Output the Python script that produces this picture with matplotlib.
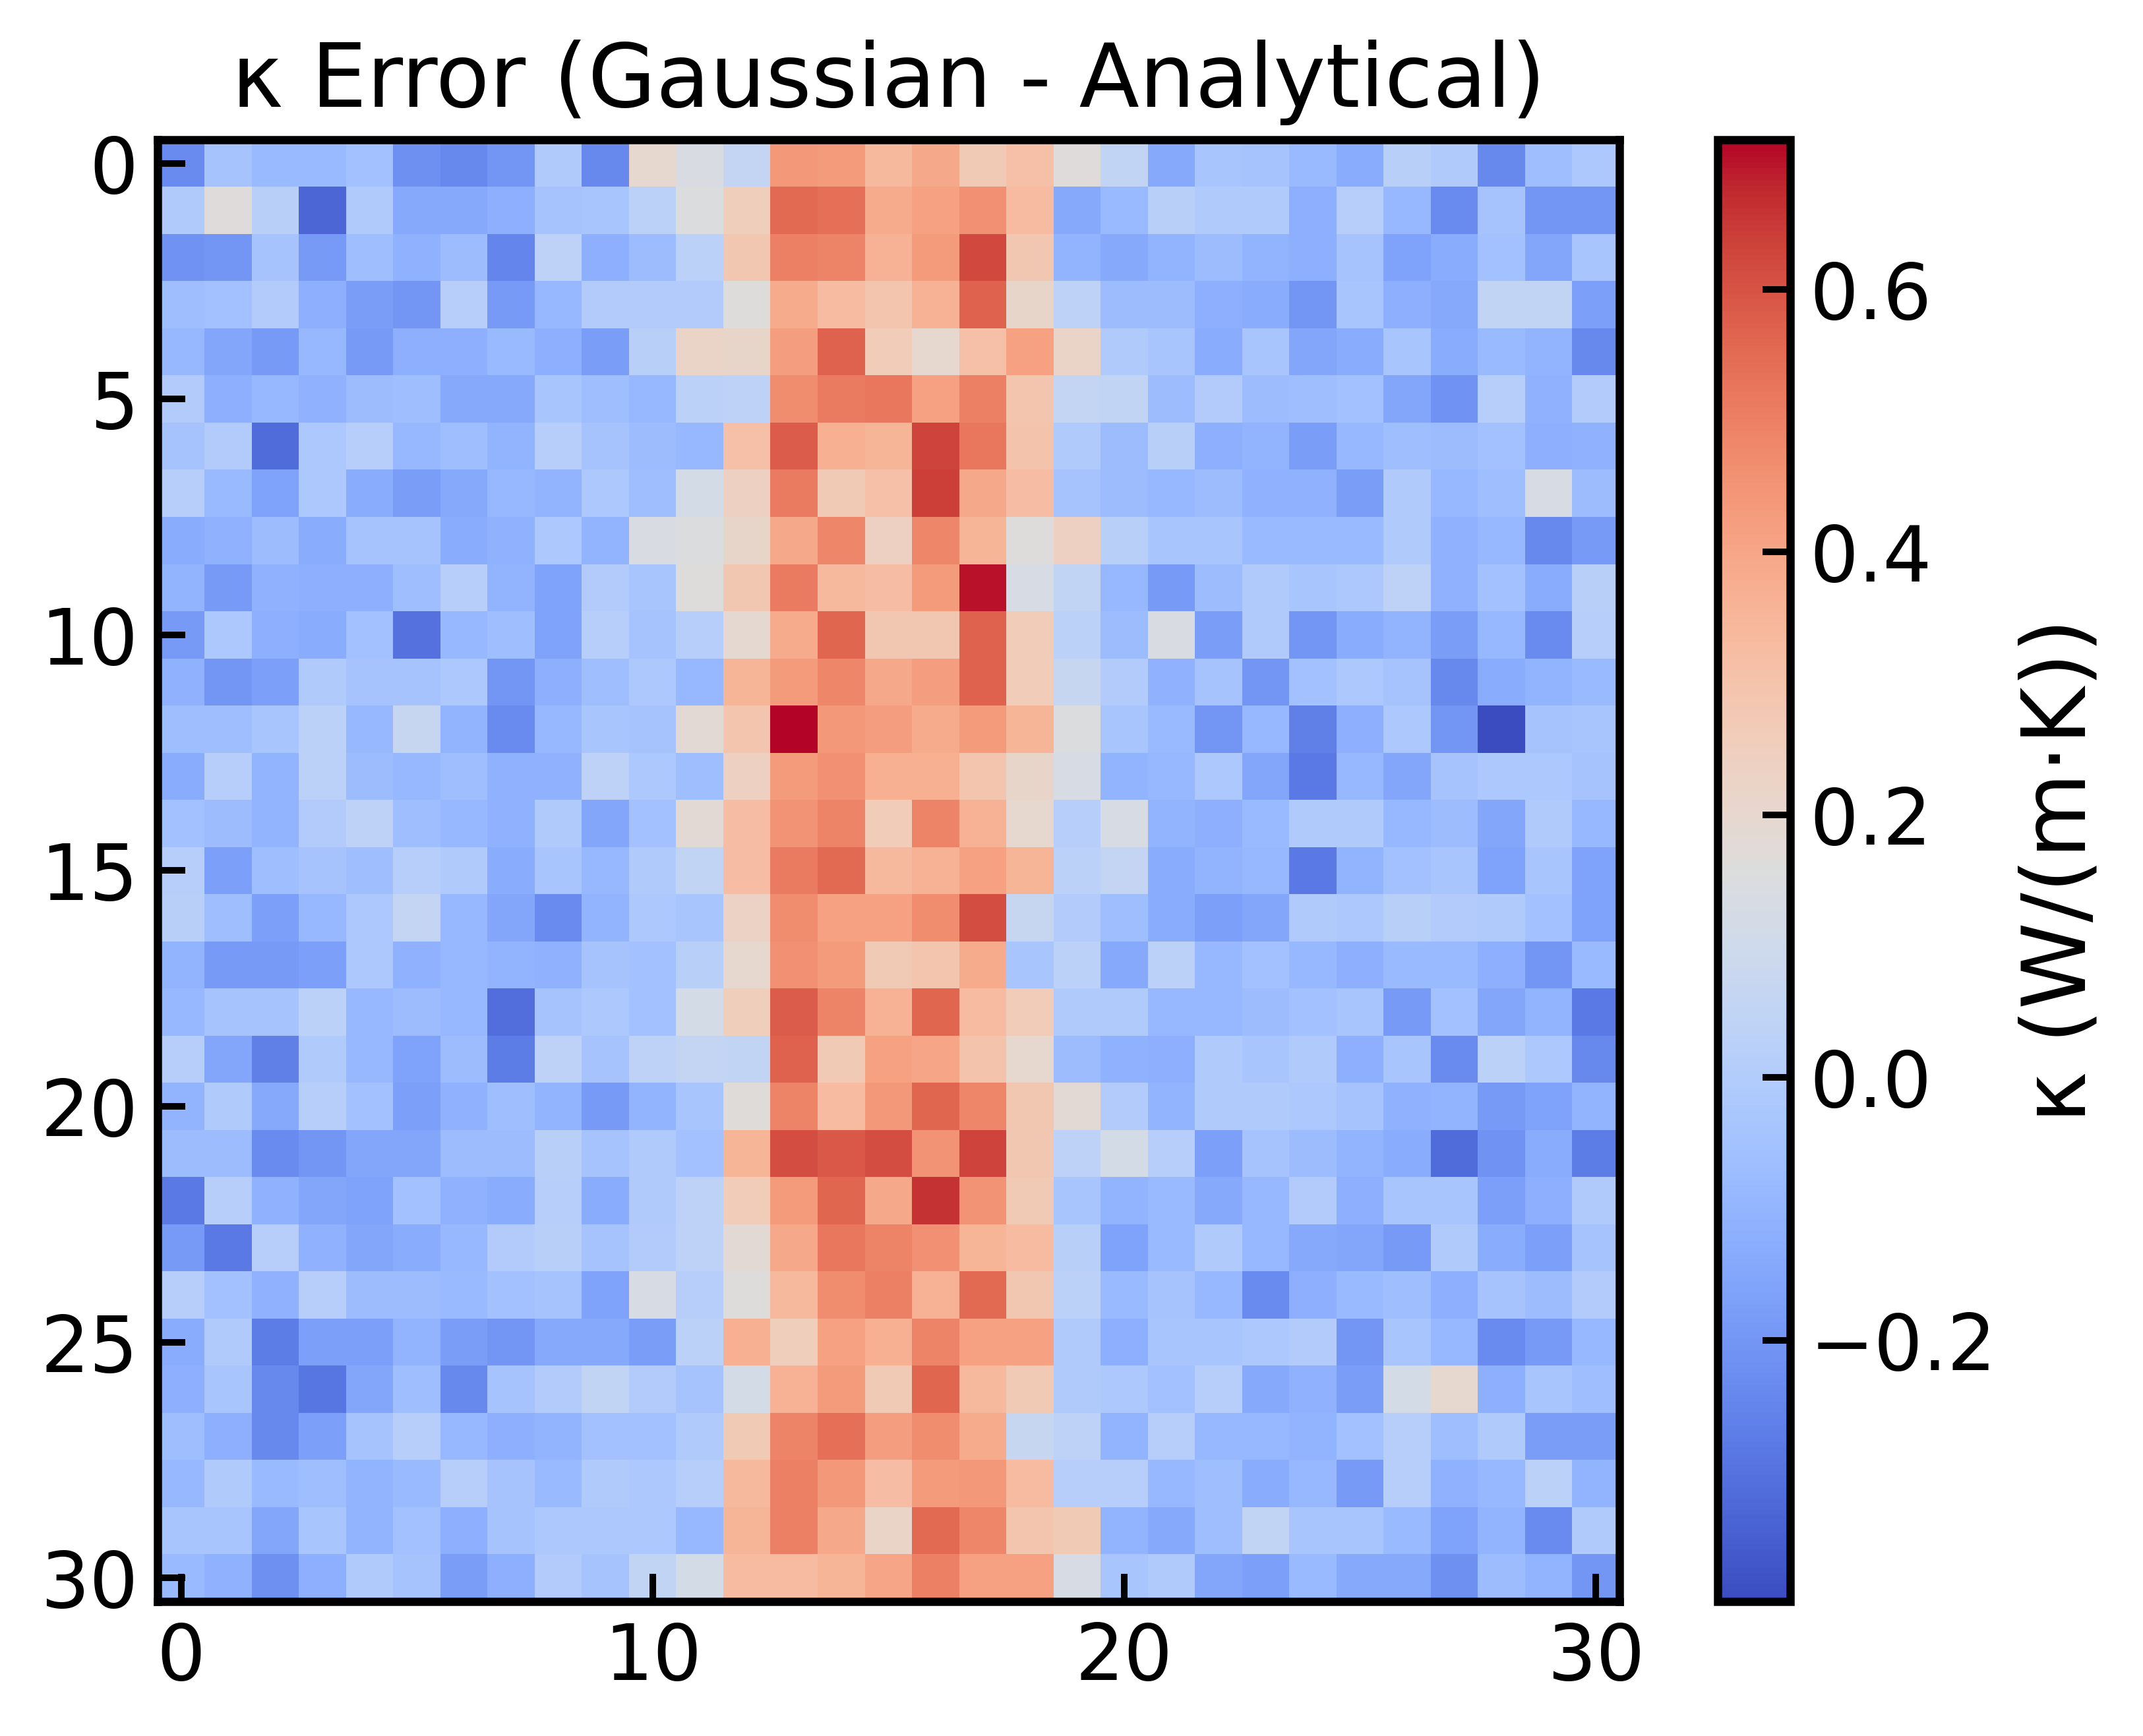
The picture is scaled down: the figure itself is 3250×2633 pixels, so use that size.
import numpy as np
import matplotlib
matplotlib.use('Agg')
import matplotlib.pyplot as plt

# Values, one list per row (top to bottom)
kappa_error = [
    [-0.23, -0.04, -0.08, -0.08, -0.05, -0.22, -0.24, -0.2, -0.01, -0.24, 0.2, 0.14, 0.06, 0.44, 0.43, 0.34, 0.39, 0.27, 0.31, 0.165, 0.05, -0.14, -0.03, -0.04, -0.08, -0.13, 0.02, -0.01, -0.24, -0.06, -0.02],
    [-0.01, 0.165, 0.02, -0.33, -0.01, -0.14, -0.14, -0.12, -0.04, -0.03, 0.03, 0.15, 0.25, 0.55, 0.54, 0.38, 0.41, 0.46, 0.33, -0.14, -0.08, 0.02, -0.01, -0.01, -0.12, 0.01, -0.09, -0.23, -0.04, -0.2, -0.2],
    [-0.21, -0.2, -0.04, -0.19, -0.06, -0.11, -0.07, -0.25, 0.04, -0.12, -0.07, 0.03, 0.28, 0.5, 0.49, 0.36, 0.43, 0.62, 0.28, -0.1, -0.14, -0.1, -0.07, -0.1, -0.12, -0.04, -0.16, -0.13, -0.05, -0.15, -0.03],
    [-0.06, -0.05, 0.0, -0.12, -0.18, -0.2, 0.01, -0.19, -0.09, 0.0, 0.0, 0.0, 0.16, 0.38, 0.33, 0.29, 0.36, 0.57, 0.21, 0.04, -0.07, -0.07, -0.12, -0.13, -0.2, -0.03, -0.12, -0.14, 0.05, 0.05, -0.17],
    [-0.09, -0.15, -0.19, -0.09, -0.19, -0.12, -0.12, -0.08, -0.12, -0.18, 0.02, 0.22, 0.21, 0.42, 0.57, 0.26, 0.2, 0.31, 0.41, 0.22, -0.01, -0.03, -0.13, -0.03, -0.15, -0.13, -0.03, -0.13, -0.08, -0.1, -0.24],
    [0.0, -0.12, -0.09, -0.11, -0.07, -0.06, -0.14, -0.14, -0.03, -0.06, -0.09, 0.03, 0.04, 0.47, 0.51, 0.52, 0.41, 0.5, 0.29, 0.06, 0.05, -0.07, 0.0, -0.07, -0.06, -0.05, -0.15, -0.21, 0.01, -0.11, 0.0],
    [-0.04, 0.0, -0.32, -0.02, 0.01, -0.09, -0.06, -0.1, 0.01, -0.04, -0.07, -0.09, 0.31, 0.58, 0.37, 0.35, 0.63, 0.52, 0.3, -0.01, -0.07, 0.02, -0.12, -0.1, -0.18, -0.09, -0.06, -0.07, -0.05, -0.12, -0.11],
    [0.01, -0.08, -0.16, -0.02, -0.13, -0.18, -0.14, -0.09, -0.1, -0.02, -0.06, 0.12, 0.24, 0.51, 0.27, 0.31, 0.64, 0.39, 0.32, -0.04, -0.07, -0.09, -0.07, -0.11, -0.11, -0.18, -0.01, -0.09, -0.06, 0.13, -0.07],
    [-0.13, -0.11, -0.07, -0.13, -0.04, -0.04, -0.13, -0.11, -0.02, -0.1, 0.14, 0.15, 0.21, 0.39, 0.48, 0.24, 0.48, 0.35, 0.16, 0.24, 0.02, -0.03, -0.03, -0.08, -0.08, -0.08, -0.01, -0.11, -0.09, -0.24, -0.19],
    [-0.1, -0.19, -0.11, -0.12, -0.12, -0.06, 0.01, -0.1, -0.16, 0.0, -0.03, 0.16, 0.28, 0.51, 0.34, 0.32, 0.43, 0.7, 0.13, 0.05, -0.09, -0.19, -0.07, -0.01, -0.03, -0.02, 0.04, -0.11, -0.05, -0.13, 0.02],
    [-0.19, -0.02, -0.12, -0.13, -0.05, -0.3, -0.09, -0.06, -0.16, 0.01, -0.04, 0.01, 0.19, 0.38, 0.56, 0.28, 0.28, 0.57, 0.26, 0.03, -0.07, 0.14, -0.18, -0.01, -0.2, -0.13, -0.1, -0.18, -0.09, -0.23, 0.01],
    [-0.11, -0.2, -0.17, -0.01, -0.04, -0.04, -0.02, -0.2, -0.12, -0.06, -0.02, -0.09, 0.35, 0.43, 0.48, 0.39, 0.42, 0.57, 0.26, 0.07, 0.0, -0.11, -0.04, -0.2, -0.05, -0.02, -0.04, -0.24, -0.13, -0.1, -0.08],
    [-0.06, -0.06, -0.03, 0.03, -0.09, 0.07, -0.1, -0.23, -0.09, -0.03, -0.04, 0.18, 0.29, 0.714, 0.44, 0.42, 0.38, 0.43, 0.35, 0.15, -0.03, -0.08, -0.2, -0.09, -0.26, -0.12, -0.02, -0.2, -0.399, -0.04, -0.03],
    [-0.13, 0.01, -0.1, 0.03, -0.07, -0.09, -0.06, -0.11, -0.11, 0.04, -0.02, -0.06, 0.24, 0.43, 0.46, 0.37, 0.37, 0.29, 0.21, 0.13, -0.1, -0.09, -0.02, -0.15, -0.28, -0.09, -0.15, -0.04, -0.02, -0.02, -0.04],
    [-0.05, -0.07, -0.1, 0.0, 0.04, -0.06, -0.09, -0.11, -0.01, -0.15, -0.05, 0.18, 0.32, 0.45, 0.49, 0.26, 0.49, 0.36, 0.2, 0.01, 0.13, -0.1, -0.12, -0.08, -0.01, -0.01, -0.09, -0.07, -0.15, -0.01, -0.09],
    [0.01, -0.17, -0.06, -0.04, -0.06, 0.01, -0.01, -0.13, -0.03, -0.09, -0.01, 0.05, 0.32, 0.51, 0.55, 0.34, 0.36, 0.41, 0.35, 0.03, 0.06, -0.13, -0.1, -0.09, -0.28, -0.1, -0.05, -0.03, -0.16, -0.03, -0.16],
    [0.02, -0.06, -0.17, -0.09, -0.02, 0.06, -0.09, -0.15, -0.23, -0.1, -0.02, -0.03, 0.23, 0.47, 0.41, 0.41, 0.47, 0.61, 0.07, 0.0, -0.06, -0.13, -0.17, -0.15, -0.01, -0.02, 0.02, 0.0, -0.01, -0.05, -0.16],
    [-0.1, -0.19, -0.19, -0.17, -0.02, -0.11, -0.09, -0.1, -0.11, -0.04, -0.05, 0.02, 0.2, 0.46, 0.43, 0.27, 0.29, 0.38, -0.03, 0.03, -0.14, 0.03, -0.09, -0.05, -0.09, -0.12, -0.08, -0.08, -0.12, -0.2, -0.08],
    [-0.09, -0.04, -0.04, 0.03, -0.09, -0.07, -0.09, -0.31, -0.04, -0.02, -0.05, 0.12, 0.25, 0.58, 0.49, 0.36, 0.56, 0.33, 0.26, -0.01, -0.01, -0.09, -0.09, -0.07, -0.05, -0.03, -0.19, -0.05, -0.15, -0.1, -0.28],
    [0.01, -0.15, -0.26, -0.01, -0.09, -0.16, -0.07, -0.27, 0.04, -0.04, 0.04, 0.06, 0.05, 0.57, 0.27, 0.41, 0.4, 0.3, 0.2, -0.07, -0.11, -0.12, -0.01, -0.03, -0.01, -0.12, -0.03, -0.23, 0.03, -0.02, -0.24],
    [-0.1, -0.01, -0.14, 0.01, -0.05, -0.17, -0.11, -0.06, -0.1, -0.19, -0.1, -0.03, 0.17, 0.49, 0.33, 0.44, 0.56, 0.48, 0.28, 0.18, 0.0, -0.1, -0.01, -0.01, -0.02, -0.04, -0.11, -0.1, -0.19, -0.16, -0.1],
    [-0.07, -0.07, -0.23, -0.2, -0.15, -0.15, -0.07, -0.07, 0.02, -0.04, -0.01, -0.05, 0.35, 0.61, 0.59, 0.61, 0.45, 0.63, 0.28, 0.04, 0.12, 0.01, -0.17, -0.04, -0.07, -0.1, -0.13, -0.32, -0.21, -0.13, -0.27],
    [-0.28, 0.01, -0.11, -0.15, -0.16, -0.05, -0.11, -0.13, 0.01, -0.13, -0.01, 0.04, 0.26, 0.43, 0.56, 0.39, 0.66, 0.45, 0.27, -0.03, -0.1, -0.08, -0.14, -0.09, 0.0, -0.12, -0.03, -0.03, -0.17, -0.12, -0.01],
    [-0.19, -0.28, 0.01, -0.11, -0.15, -0.13, -0.09, 0.0, 0.02, -0.04, 0.0, 0.04, 0.18, 0.39, 0.52, 0.49, 0.46, 0.35, 0.33, 0.02, -0.16, -0.08, -0.01, -0.09, -0.14, -0.15, -0.19, -0.01, -0.13, -0.17, -0.04],
    [0.01, -0.05, -0.11, 0.01, -0.07, -0.07, -0.08, -0.05, -0.04, -0.16, 0.13, 0.01, 0.16, 0.34, 0.47, 0.5, 0.36, 0.55, 0.28, 0.03, -0.08, -0.04, -0.09, -0.23, -0.12, -0.08, -0.06, -0.12, -0.04, -0.07, 0.0],
    [-0.13, -0.01, -0.27, -0.17, -0.17, -0.1, -0.18, -0.2, -0.14, -0.14, -0.18, 0.03, 0.37, 0.25, 0.41, 0.37, 0.49, 0.41, 0.41, -0.01, -0.12, -0.03, -0.03, -0.02, 0.0, -0.2, -0.03, -0.09, -0.23, -0.19, -0.09],
    [-0.12, -0.03, -0.24, -0.29, -0.15, -0.06, -0.24, -0.04, 0.0, 0.05, 0.0, -0.04, 0.12, 0.36, 0.43, 0.27, 0.56, 0.34, 0.27, -0.01, -0.02, -0.05, 0.01, -0.14, -0.11, -0.18, 0.12, 0.2, -0.12, -0.03, -0.06],
    [-0.06, -0.12, -0.24, -0.17, -0.04, 0.01, -0.09, -0.12, -0.1, -0.05, -0.05, -0.01, 0.27, 0.49, 0.54, 0.42, 0.47, 0.38, 0.07, 0.04, -0.1, 0.01, -0.09, -0.09, -0.1, -0.05, 0.01, -0.06, -0.01, -0.18, -0.18],
    [-0.09, -0.01, -0.08, -0.06, -0.1, -0.08, 0.01, -0.04, -0.08, -0.01, -0.02, 0.01, 0.34, 0.5, 0.44, 0.32, 0.43, 0.44, 0.33, 0.01, 0.01, -0.09, -0.06, -0.13, -0.09, -0.19, 0.01, -0.11, -0.09, 0.03, -0.1],
    [-0.03, -0.03, -0.15, -0.03, -0.1, -0.05, -0.12, -0.04, -0.02, -0.02, -0.02, -0.09, 0.35, 0.5, 0.39, 0.22, 0.55, 0.48, 0.29, 0.27, -0.1, -0.14, -0.06, 0.05, -0.03, -0.03, -0.08, -0.16, -0.1, -0.23, -0.01],
    [-0.08, -0.11, -0.22, -0.12, -0.01, -0.04, -0.18, -0.12, 0.0, -0.04, 0.05, 0.12, 0.33, 0.33, 0.35, 0.4, 0.5, 0.41, 0.41, 0.13, -0.03, -0.01, -0.15, -0.17, -0.08, -0.14, -0.14, -0.22, -0.07, -0.1, -0.2],
]
axis_ticks = [0, 10, 20, 30]
row_ticks = [0, 5, 10, 15, 20, 25, 30]
cbar_ticks = [-0.2, 0.0, 0.2, 0.4, 0.6]

W, H = 3250, 2633
fig = plt.figure(figsize=(W / 600, H / 600), dpi=600)
plt.rcParams['font.family'] = 'DejaVu Sans'

# axes boxes measured in pixels
ax = fig.add_axes([239 / W, 1 - 2429 / H, (2456 - 239) / W, (2429 - 212) / H])
cax = fig.add_axes([2605 / W, 1 - 2429 / H, (2715 - 2605) / W, (2429 - 212) / H])

im = ax.imshow(np.array(kappa_error), cmap='coolwarm', vmin=-0.399, vmax=0.714, aspect='auto')
ax.set_title('κ Error (Gaussian - Analytical)', fontsize=16, pad=6)
ax.set_xticks(axis_ticks)
ax.set_yticks(row_ticks)
ax.tick_params(axis='both', direction='in', length=5, width=1.2, labelsize=14, pad=3.5)
for spine in ax.spines.values():
    spine.set_linewidth(1.5)

cb = fig.colorbar(im, cax=cax)
cb.set_ticks(cbar_ticks)
cb.ax.tick_params(direction='in', length=5, width=1.2, labelsize=14, pad=3.5)
cb.outline.set_linewidth(1.5)
cb.set_label('κ (W/(m·K))', fontsize=16, labelpad=4)

fig.savefig('out.png', dpi=600)
